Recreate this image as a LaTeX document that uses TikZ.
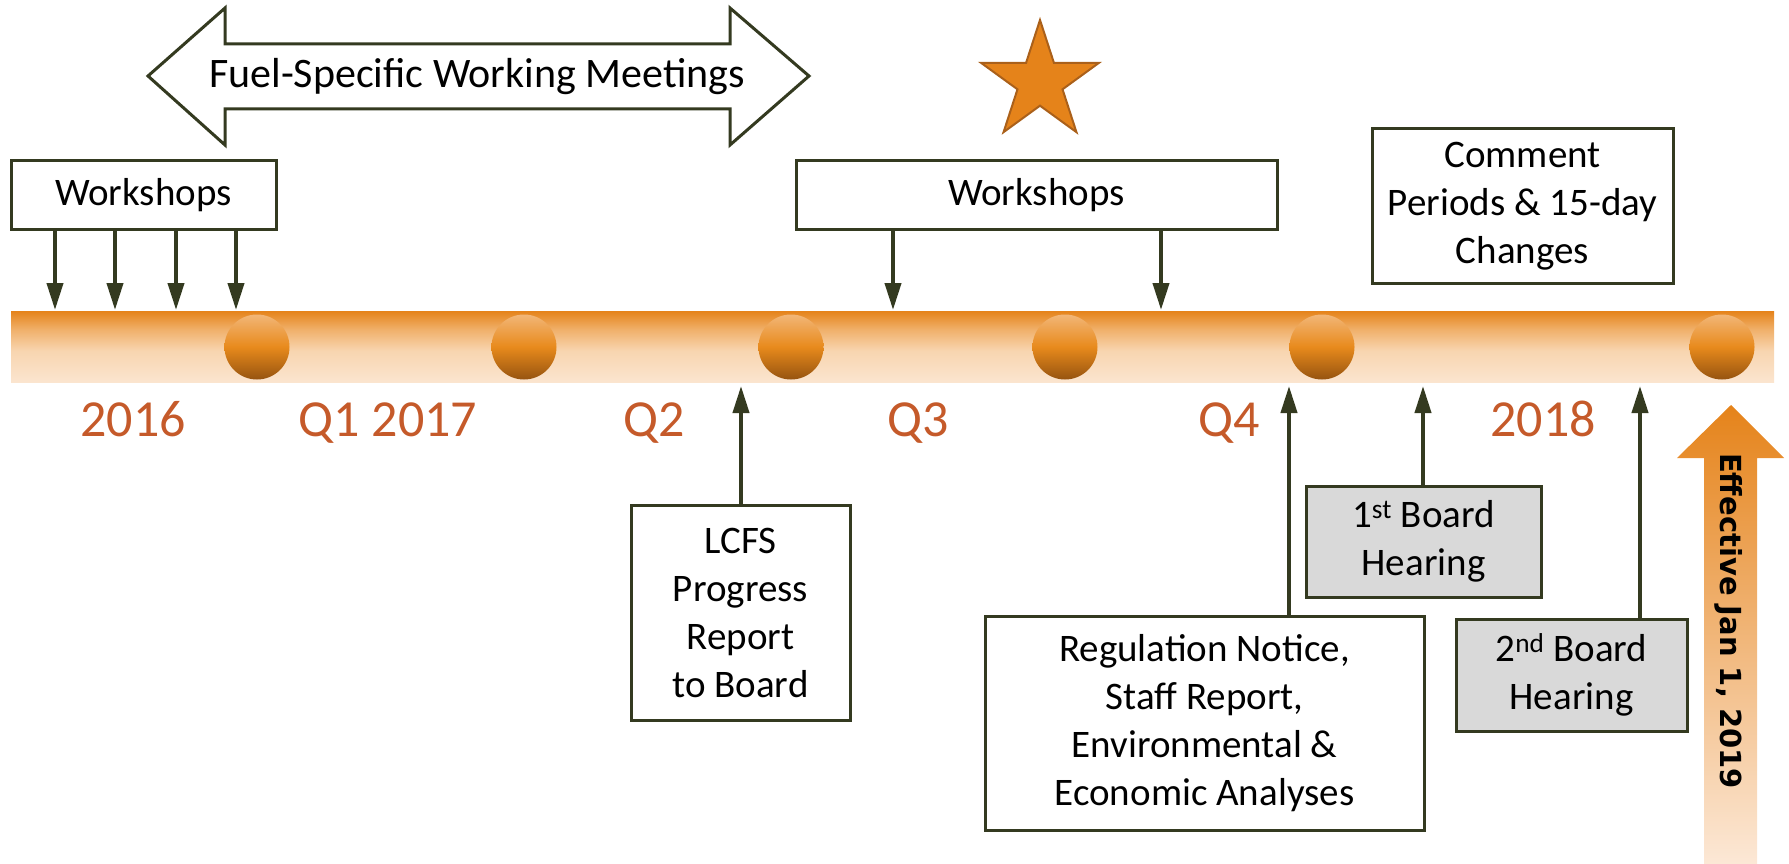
\documentclass[tikz,border=0pt]{standalone}
\usepackage{fontspec}
\setmainfont{Carlito}
\newfontfamily\effont{DejaVu Sans}
\usetikzlibrary{arrows.meta,shapes.geometric}
\definecolor{boxline}{RGB}{52,58,32}
\definecolor{yearcol}{RGB}{197,90,42}
\definecolor{orng}{RGB}{229,131,26}
\definecolor{stardark}{RGB}{170,96,26}
\definecolor{barpale}{RGB}{251,229,207}
\definecolor{barpale2}{RGB}{248,213,176}
\definecolor{barmid}{RGB}{240,176,106}
\definecolor{circtop}{RGB}{242,182,119}
\definecolor{circmid}{RGB}{232,138,28}
\definecolor{circbot}{RGB}{150,84,16}
\definecolor{effpale}{RGB}{252,232,214}
\definecolor{grayfill}{RGB}{217,217,217}
\pgfdeclareverticalshading{barshade}{100bp}{color(0bp)=(barpale); color(25bp)=(barpale); color(47bp)=(barpale2); color(62bp)=(barmid); color(75bp)=(orng); color(100bp)=(orng)}
\pgfdeclareverticalshading{circshade}{100bp}{color(0bp)=(circbot); color(25bp)=(circbot); color(50bp)=(circmid); color(75bp)=(circtop); color(100bp)=(circtop)}
\pgfdeclareverticalshading{effshade}{100bp}{color(0bp)=(effpale); color(25bp)=(effpale); color(75bp)=(orng); color(100bp)=(orng)}
\begin{document}
\begin{tikzpicture}[x=1pt,y=-1pt,
  box/.style={draw=boxline, line width=3pt, fill=white, align=center, inner sep=0pt,
    font=\fontsize{39}{48}\selectfont},
  graybox/.style={box, fill=grayfill},
  arr/.style={draw=boxline, line width=4pt, -{Triangle[length=27pt,width=16pt]}},
  yearlbl/.style={text=yearcol, anchor=base, inner sep=0pt, font=\fontsize{52}{60}\selectfont},
  dot/.style={circle, minimum size=65pt, inner sep=0pt, shade, shading=circshade}]
\useasboundingbox (0,0) rectangle (1789,864);

% double arrow
\draw[boxline, line width=3pt, fill=white, line join=miter]
  (148,76) -- (225,8) -- (225,44) -- (730,44) -- (730,8) -- (809,76)
  -- (730,145) -- (730,109) -- (225,109) -- (225,145) -- cycle;
\node[font=\fontsize{42}{50}\selectfont, inner sep=0pt] (fuel) at (477,77) {Fuel-Specific Working Meetings};

% star
\node[star, star points=5, star point ratio=2.618, minimum size=124pt, inner sep=0pt,
  fill=orng, draw=stardark, line width=2pt] (star) at (1040,82) {};

% bar
\node[shade, shading=barshade, minimum width=1763pt, minimum height=71pt, inner sep=0pt] (bar) at (892.5,346.5) {};

% dots
\foreach \i/\x in {1/257,2/524,3/791,4/1065,5/1322,6/1722}
  \node[dot] (d\i) at (\x,347) {};

% year labels
\node[yearlbl] (y2016) at (133,436) {2016};
\node[yearlbl] (yq1) at (388,436) {Q1 2017};
\node[yearlbl] (yq2) at (654,436) {Q2};
\node[yearlbl] (yq3) at (918,436) {Q3};
\node[yearlbl] (yq4) at (1229,436) {Q4};
\node[yearlbl] (y2018) at (1543,436) {2018};

% workshops boxes
\node[box, minimum width=265pt, minimum height=69pt] (ws1) at (143.5,195) {Workshops};
\node[box, minimum width=481pt, minimum height=69pt] (ws2) at (1036.5,195) {Workshops};
\node[box, minimum width=301pt, minimum height=155pt] (cmt) at (1522.5,206) {Comment\\Periods \& 15-day\\Changes};

% down arrows
\foreach \n/\x in {a/55,b/115,c/176,d/236}
  \coordinate (t\n) at (\x,310);
\foreach \n in {a,b,c,d}
  \draw[arr] (ws1.south -| t\n) -- (t\n);
\coordinate (te) at (893,310);
\coordinate (tf) at (1161,310);
\draw[arr] (ws2.south -| te) -- (te);
\draw[arr] (ws2.south -| tf) -- (tf);

% lower boxes
\node[box, minimum width=219pt, minimum height=215pt] (lcfs) at (740.5,612.5) {LCFS\\Progress\\Report\\to Board};
\node[box, minimum width=439pt, minimum height=214pt] (reg) at (1204.5,723) {Regulation Notice,\\Staff Report,\\Environmental \&\\Economic Analyses};
\node[graybox, minimum width=235pt, minimum height=111pt] (b1) at (1423.5,541.5) {1\textsuperscript{st} Board\\Hearing};
\node[graybox, minimum width=231pt, minimum height=112pt] (b2) at (1571.5,675) {2\textsuperscript{nd} Board\\Hearing};

% up arrows
\coordinate (ua) at (741,386);
\coordinate (ub) at (1289,386);
\coordinate (uc) at (1423,386);
\coordinate (ud) at (1640,386);
\draw[arr] (lcfs.north -| ua) -- (ua);
\draw[arr] (reg.north -| ub) -- (ub);
\draw[arr] (b1.north -| uc) -- (uc);
\draw[arr] (b2.north -| ud) -- (ud);

% effective arrow
\shade[shading=effshade] (1731,405) -- (1784,458) -- (1757,458) -- (1757,864)
  -- (1704,864) -- (1704,458) -- (1677,458) -- cycle;
\node[rotate=-90, inner sep=0pt, font=\effont\bfseries\fontsize{29}{34}\selectfont] (eff) at (1729,621) {Effective Jan 1, 2019};
\end{tikzpicture}
\end{document}
